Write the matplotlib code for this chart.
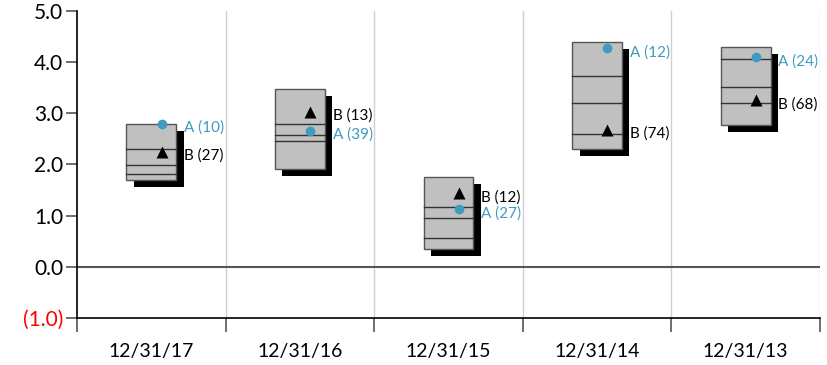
import matplotlib
matplotlib.use("Agg")
import matplotlib.pyplot as plt
from matplotlib.patches import Rectangle
from matplotlib.transforms import offset_copy

plt.rcParams["font.family"] = ["Lato", "DejaVu Sans"]

# data
categories = ["12/31/17", "12/31/16", "12/31/15", "12/31/14", "12/31/13"]
box_top = [2.79, 3.48, 1.75, 4.40, 4.29]
box_bottom = [1.70, 1.91, 0.35, 2.30, 2.77]
box_lines = [[2.30, 1.99, 1.82], [2.79, 2.57, 2.45], [1.16, 0.95, 0.56],
             [3.73, 3.21, 2.60], [4.06, 3.52, 3.20]]
a_vals = [2.80, 2.66, 1.13, 4.27, 4.10]
b_vals = [2.25, 3.03, 1.44, 2.68, 3.26]
a_counts = [10, 39, 27, 12, 24]
b_counts = [27, 13, 12, 74, 68]
y_ticks = [-1.0, 0.0, 1.0, 2.0, 3.0, 4.0, 5.0]
y_labels = ["(1.0)", "0.0", "1.0", "2.0", "3.0", "4.0", "5.0"]

A_COLOR = "#3f9bbf"
BOX_W = 0.335
MARK_DX = 0.07

fig = plt.figure(figsize=(8.27, 3.65), dpi=100)
ax = fig.add_axes([0.0931, 0.1288, 0.8984, 0.8411])
ax.set_xlim(-0.5, len(categories) - 0.5)
ax.set_ylim(-1.0, 5.0)

shadow_tr = offset_copy(ax.transData, fig=fig, x=7.5, y=-7, units="dots")

for i in range(len(categories)):
    x0 = i - BOX_W / 2
    h = box_top[i] - box_bottom[i]
    ax.add_patch(Rectangle((x0, box_bottom[i]), BOX_W, h, facecolor="black",
                           edgecolor="none", transform=shadow_tr, zorder=2))
    ax.add_patch(Rectangle((x0, box_bottom[i]), BOX_W, h, facecolor="#c0c0c0",
                           edgecolor="#555555", lw=1.0, zorder=3))
    for y in box_lines[i]:
        ax.plot([x0, x0 + BOX_W], [y, y], color="#333333", lw=1.0, zorder=4)

    xm = i + MARK_DX
    ax.plot(xm, a_vals[i], "o", color=A_COLOR, ms=7, mec="none", zorder=5)
    ax.plot(xm, b_vals[i], "^", color="black", ms=8.5, mec="none", zorder=5)
    ax.annotate(f"A ({a_counts[i]})", (xm, a_vals[i]), xytext=(16, -3),
                textcoords="offset points", color=A_COLOR, fontsize=11,
                va="center", ha="left", zorder=6)
    ax.annotate(f"B ({b_counts[i]})", (xm, b_vals[i]), xytext=(16, -3),
                textcoords="offset points", color="black", fontsize=11,
                va="center", ha="left", zorder=6)

# zero line and category separators
ax.axhline(0.0, color="#555555", lw=1.5, zorder=1)
for b in range(1, len(categories) + 1):
    ax.axvline(b - 0.5, color="#d0d0d0", lw=1.0, zorder=0)

ax.set_yticks(y_ticks)
ax.set_yticklabels(y_labels, fontsize=15)
ax.get_yticklabels()[0].set_color("red")
ax.tick_params(axis="y", length=8, width=1.2, color="#555555", pad=2)

ax.set_xticks([b - 0.5 for b in range(len(categories) + 1)])
ax.set_xticklabels([])
ax.set_xticks(range(len(categories)), minor=True)
ax.set_xticklabels(categories, minor=True, fontsize=14)
ax.tick_params(axis="x", which="major", length=10, width=1.2, color="#555555")
ax.tick_params(axis="x", which="minor", length=0, pad=18)

for s in ["top", "right"]:
    ax.spines[s].set_visible(False)
ax.spines["left"].set_color("black")
ax.spines["bottom"].set_color("black")
ax.spines["left"].set_linewidth(1.2)
ax.spines["bottom"].set_linewidth(1.2)

fig.savefig("out.png", dpi=100)
